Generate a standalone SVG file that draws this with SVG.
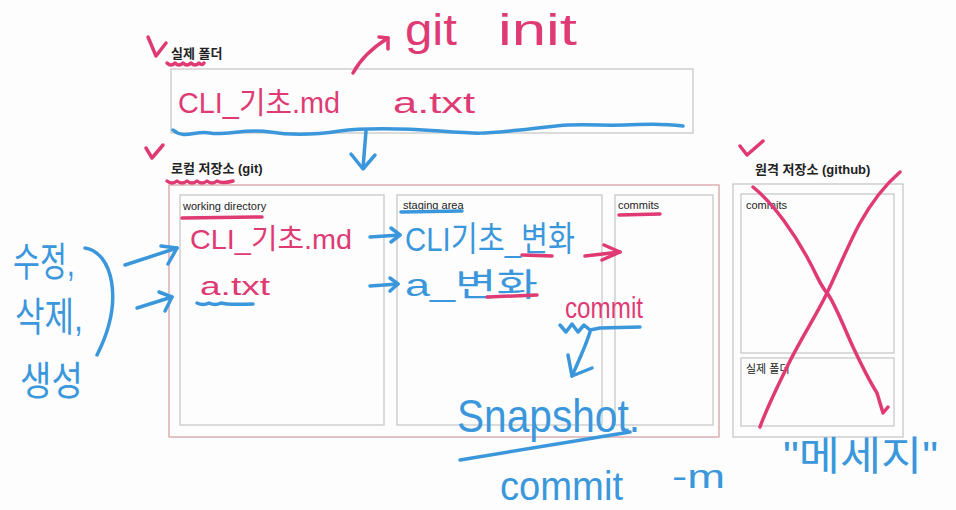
<svg xmlns="http://www.w3.org/2000/svg" width="956" height="510" viewBox="0 0 956 510">
<style>
.bg{fill:#fdfdfd}
.box{fill:none;stroke:#c9c9c9;stroke-width:1.3}
.outer{fill:none;stroke:#d6a3a8;stroke-width:1.3}
.lbl{font-family:"Liberation Sans","Noto Sans CJK KR",sans-serif;font-size:13px;font-weight:600;fill:#222}
.sm{font-family:"Liberation Sans","Noto Sans CJK KR",sans-serif;font-size:11px;fill:#222}
.hp{font-family:"Liberation Sans","Noto Sans CJK KR",sans-serif;fill:#e03a74}
.hb{font-family:"Liberation Sans","Noto Sans CJK KR",sans-serif;fill:#3b97dc}
.sp{fill:none;stroke:#e03a74;stroke-width:3.5;stroke-linecap:round;stroke-linejoin:round}
.sb{fill:none;stroke:#3b97dc;stroke-width:3.5;stroke-linecap:round;stroke-linejoin:round}
</style>
<rect class="bg" x="0" y="0" width="956" height="510"/>

<g id="real-folder">
  <text class="lbl" x="171" y="58">실제 폴더</text>
  <rect class="box" x="171" y="69" width="522" height="64"/>
</g>

<g id="local-repo">
  <text class="lbl" x="171" y="173">로컬 저장소 (git)</text>
  <rect class="outer" x="169" y="185" width="550" height="252"/>
</g>
<g id="working-directory">
  <rect class="box" x="180" y="195" width="204" height="230"/>
  <text class="sm" x="183" y="210">working directory</text>
</g>
<g id="staging-area">
  <rect class="box" x="397" y="195" width="205" height="230"/>
  <text class="sm" x="403" y="209">staging area</text>
</g>
<g id="commits">
  <rect class="box" x="615" y="195" width="98" height="230"/>
  <text class="sm" x="618" y="209">commits</text>
</g>

<g id="remote-repo">
  <text class="lbl" x="755" y="174">원격 저장소 (github)</text>
  <rect class="box" x="733" y="184" width="170" height="253"/>
</g>
<g id="remote-commits">
  <rect class="box" x="741" y="194" width="153" height="159"/>
  <text class="sm" x="746" y="209">commits</text>
</g>
<g id="remote-folder">
  <rect class="box" x="741" y="358" width="153" height="68"/>
  <text class="sm" x="746" y="373">실제 폴더</text>
</g>

<g id="annotations-text">
  <text class="hp" x="405" y="45" font-size="44" textLength="52" lengthAdjust="spacingAndGlyphs">git</text>
  <text class="hp" x="498" y="45" font-size="44" textLength="79" lengthAdjust="spacingAndGlyphs">init</text>
  <text class="hp" x="178" y="113" font-size="30" textLength="162" lengthAdjust="spacingAndGlyphs">CLI_기초.md</text>
  <text class="hp" x="393" y="113" font-size="30" textLength="82" lengthAdjust="spacingAndGlyphs">a.txt</text>
  <text class="hp" x="190" y="249" font-size="28" textLength="162" lengthAdjust="spacingAndGlyphs">CLI_기초.md</text>
  <text class="hp" x="200" y="295" font-size="26" textLength="70" lengthAdjust="spacingAndGlyphs">a.txt</text>
  <text class="hb" x="405" y="251" font-size="34" textLength="170" lengthAdjust="spacingAndGlyphs">CLI기초_변화</text>
  <text class="hb" x="405" y="296" font-size="32" textLength="133" lengthAdjust="spacingAndGlyphs">a_변화</text>
  <text class="hp" x="565" y="318" font-size="30" textLength="78" lengthAdjust="spacingAndGlyphs">commit</text>
  <text class="hb" x="457" y="432" font-size="46" textLength="183" lengthAdjust="spacingAndGlyphs">Snapshot.</text>
  <text class="hb" x="500" y="500" font-size="40" textLength="123" lengthAdjust="spacingAndGlyphs">commit</text>
  <text class="hb" x="672" y="488" font-size="34" textLength="53" lengthAdjust="spacingAndGlyphs">-m</text>
  <text class="hb" x="783" y="470" font-size="40" textLength="155" lengthAdjust="spacingAndGlyphs">"메세지"</text>
  <text class="hb" x="13" y="276" font-size="40" textLength="62" lengthAdjust="spacingAndGlyphs">수정,</text>
  <text class="hb" x="15" y="331" font-size="40" textLength="68" lengthAdjust="spacingAndGlyphs">삭제,</text>
  <text class="hb" x="20" y="395" font-size="40" textLength="63" lengthAdjust="spacingAndGlyphs">생성</text>
</g>

<g id="connectors">
  <!-- git init arrow -->
  <path class="sp" d="M353,73 C360,60 372,48 388,38"/>
  <path class="sp" d="M379,37 L388,38 L388,49"/>
  <!-- blue wavy underline and down arrow -->
  <path class="sb" d="M173,130 C185,140 195,130 210,133 S245,128 270,132 S320,134 340,131 S400,128 440,131 S480,134 520,130 S560,124 600,125 S650,122 683,126"/>
  <path class="sb" d="M366,131 L363,168"/>
  <path class="sb" d="M351,154 L363,169 L375,155"/>
  <!-- left bracket and arrows -->
  <path class="sb" d="M85,248 C112,252 125,300 97,355"/>
  <path class="sb" d="M125,265 L177,248"/>
  <path class="sb" d="M161,246 L177,248 L168,264"/>
  <path class="sb" d="M137,308 L172,297"/>
  <path class="sb" d="M159,292 L172,297 L165,311"/>
  <!-- wd to staging arrows -->
  <path class="sb" d="M370,237 L400,235"/>
  <path class="sb" d="M391,228 L400,235 L391,242"/>
  <path class="sb" d="M370,286 L398,284"/>
  <path class="sb" d="M390,278 L398,284 L390,291"/>
  <!-- staging to commits arrow -->
  <path class="sp" d="M585,256 L620,252"/>
  <path class="sp" d="M604,245 L620,252 L602,260"/>
  <!-- commit squiggle and arrow to snapshot -->
  <path class="sb" d="M560,325 L566,332 L572,324 L578,332 L584,325 L590,330 L600,328 L640,327"/>
  <path class="sb" d="M590,332 C585,348 578,362 572,376"/>
  <path class="sb" d="M568,355 L572,376 L592,368"/>
  <path class="sb" d="M460,460 C520,450 580,440 630,432"/>
  <!-- underlines -->
  <path class="sp" d="M167,63 q4,4 8,0 q4,4 8,0 q4,4 8,0 q4,4 8,0 q3,3 5,0"/>
  <path class="sp" d="M167,181 q5,4 10,0 q5,4 10,0 q5,4 10,0 q5,4 10,0 q5,4 10,0 q5,3 16,0"/>
  <path class="sp" d="M182,218 L262,217"/>
  <path class="sb" d="M401,212 L462,211"/>
  <path class="sp" d="M619,215 L660,214"/>
  <path class="sb" d="M197,303 q6,3 12,0 q6,3 12,0 q6,2 32,1"/>
  <path class="sp" d="M522,255 L552,256"/>
  <path class="sp" d="M487,297 L537,295"/>
  <!-- check marks -->
  <path class="sp" d="M148,37 L156,56 L166,43"/>
  <path class="sp" d="M146,148 L152,158 L163,145"/>
  <path class="sp" d="M740,146 L747,155 L763,141"/>
  <!-- big X over remote repo -->
  <path class="sp" d="M753,187 C775,205 795,235 807,257 S820,285 827,293 S845,330 853,347 S872,385 877,393 L883,413 L888,407"/>
  <path class="sp" d="M900,172 C885,185 870,205 860,223 S838,270 827,293 S800,340 787,367 S766,410 760,427"/>
</g>
</svg>
